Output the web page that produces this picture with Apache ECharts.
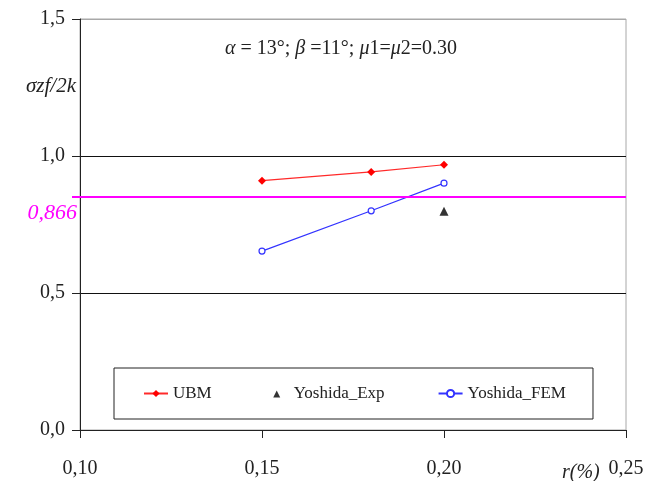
<!DOCTYPE html>
<html><head><meta charset="utf-8">
<script src="https://cdn.jsdelivr.net/npm/echarts@6/dist/echarts.min.js"></script>
<style>html,body{margin:0;padding:0;background:#fff}#c{width:657px;height:481px}</style>
</head><body><div id="c"></div>
<script>
const rValues = [0.15, 0.18, 0.20];
const ubmValues = [0.910, 0.942, 0.968];
const femValues = [0.653, 0.800, 0.901];
const expR = [0.20];
const expValues = [0.798];
const refLineValue = 0.85;
const refLineLabel = '0,866';
const xTicks = [0.10, 0.15, 0.20, 0.25];
const yTicks = [0.0, 0.5, 1.0, 1.5];

const F = 'Liberation Serif';
const chart = echarts.init(document.getElementById('c'));
const pairs = (xs, ys) => xs.map((x, i) => [x, ys[i]]);
const smallTriangleIcon = 'path://M0,0L0.01,0M24,0L24.01,0M0,9L0.01,9M24,9L24.01,9M8.5,8.5L15.5,8.5L12,1.5Z';

chart.setOption({
  animation: false,
  backgroundColor: '#fff',
  grid: { left: 80, right: 31, top: 19, bottom: 51, show: true, borderColor: '#a8a8a8', borderWidth: 1 },
  title: [
    { text: 'σzf/2k', left: 21, top: 71, textStyle: { fontFamily: F, fontStyle: 'italic', fontWeight: 'normal', fontSize: 21, color: '#222' } },
    { text: '{i|α} = 13°; {i|β} =11°; {i|μ}1={i|μ}2=0.30', left: 220, top: 34,
      textStyle: { fontFamily: F, fontWeight: 'normal', fontSize: 20, color: '#222',
        rich: { i: { fontFamily: F, fontStyle: 'italic', fontSize: 20, color: '#222' } } } },
    { text: 'r(%)', left: 557, top: 458, textStyle: { fontFamily: F, fontStyle: 'italic', fontWeight: 'normal', fontSize: 20, color: '#222' } }
  ],
  legend: {
    left: 114, top: 368, orient: 'horizontal',
    padding: [17, 27, 17, 29], itemGap: 53, itemWidth: 24, itemHeight: 9,
    borderColor: '#222', borderWidth: 1, backgroundColor: '#fff',
    textStyle: { fontFamily: F, fontSize: 17, color: '#222' },
    data: ['UBM', { name: 'Yoshida_Exp', icon: smallTriangleIcon }, 'Yoshida_FEM']
  },
  xAxis: {
    type: 'value', min: xTicks[0], max: xTicks[xTicks.length - 1], interval: 0.05,
    axisLine: { lineStyle: { color: '#222', width: 1 } },
    axisTick: { show: true, inside: false, length: 8, lineStyle: { color: '#222' } },
    axisLabel: { margin: 29, fontFamily: F, fontSize: 20, color: '#222',
      formatter: v => v.toFixed(2).replace('.', ','), showMinLabel: true, showMaxLabel: true },
    splitLine: { show: false }
  },
  yAxis: [
    {
      type: 'value', min: yTicks[0], max: yTicks[yTicks.length - 1], interval: 0.5,
      axisLine: { show: true, lineStyle: { color: '#222', width: 1 } },
      axisTick: { show: true, length: 8, lineStyle: { color: '#222' } },
      axisLabel: { margin: 15, fontFamily: F, fontSize: 20, color: '#222',
        formatter: v => v.toFixed(1).replace('.', ',') },
      splitLine: { show: true, lineStyle: { color: ['#111', '#111', '#111', '#a8a8a8'], width: 1 } }
    },
    {
      type: 'value', position: 'left', min: yTicks[0], max: yTicks[yTicks.length - 1],
      axisLine: { show: false },
      axisTick: { show: true, customValues: [refLineValue], length: 8, lineStyle: { color: '#ff00ff', width: 2 } },
      axisLabel: { customValues: [refLineValue], margin: 3, verticalAlign: 'top', padding: [5, 0, 0, 0], fontFamily: F, fontStyle: 'italic',
        fontSize: 22, color: '#ff00ff', formatter: () => refLineLabel },
      splitLine: { show: false }
    }
  ],
  series: [
    {
      name: 'UBM', type: 'line', data: pairs(rValues, ubmValues),
      symbol: 'diamond', symbolSize: 8, showAllSymbol: true,
      lineStyle: { color: '#ff2a2a', width: 1.2 }, itemStyle: { color: '#ff0000' },
      markLine: {
        silent: true, symbol: ['none', 'none'], label: { show: false },
        lineStyle: { color: '#ff00ff', width: 2, type: 'solid' },
        data: [{ yAxis: refLineValue }]
      },
      z: 3
    },
    {
      name: 'Yoshida_Exp', type: 'scatter', data: pairs(expR, expValues),
      symbol: 'triangle', symbolSize: 9, itemStyle: { color: '#000' }, z: 3
    },
    {
      name: 'Yoshida_FEM', type: 'line', data: pairs(rValues, femValues),
      symbol: 'circle', symbolSize: 6, showAllSymbol: true,
      lineStyle: { color: '#3333ff', width: 1.2 },
      itemStyle: { color: '#fff', borderColor: '#3333ff', borderWidth: 1.2 }, z: 3
    }
  ]
});
</script></body></html>
